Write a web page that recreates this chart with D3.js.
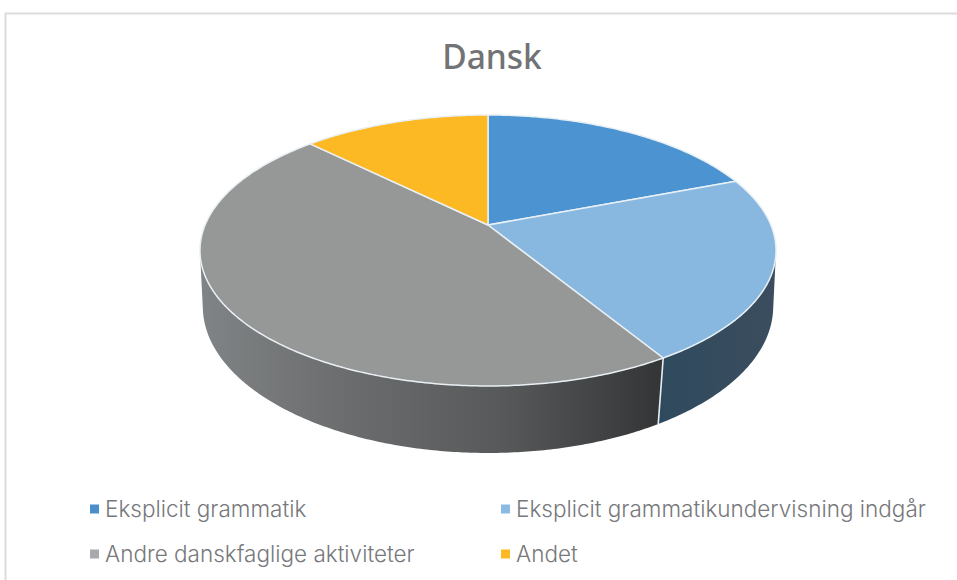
<!DOCTYPE html>
<html><head><meta charset="utf-8">
<script src="https://cdn.jsdelivr.net/npm/d3@7/dist/d3.min.js"></script>
<style>html,body{margin:0;padding:0;background:#fff}svg{display:block}</style>
</head><body><svg id="c" width="957" height="580"></svg>
<script>
const title = "Dansk";
const categories = ["Eksplicit grammatik","Eksplicit grammatikundervisning indgår","Andre danskfaglige aktiviteter","Andet"];
const values = [19.2,22.1,46.1,12.6];
const colors = ["#4b94d1","#88b8e0","#969897","#fdb923"];
const legendSwatch = ["#4a8fcb","#8bbbe3","#a7a9ac","#fdb923"];

const svg = d3.select("#c");
const cx=488;
// perspective projection of the disc (top and bottom faces)
const topFace={a:282.9,b:130.7,k:0.188,y0:225};
const botFace={a:281.3,b:142.6,k:0.165,y0:282.2};
const project=(f,t)=>{const x=Math.sin(t),y=Math.cos(t),w=1+f.k*y;return [cx+f.a*x/w,f.y0-f.b*y/w];};
const arcPts=(f,t0,t1)=>{const n=Math.max(2,Math.ceil(Math.abs(t1-t0)/0.01));return d3.range(n+1).map(i=>project(f,t0+(t1-t0)*i/n));};
const line=d3.line();

const pie=d3.pie().sort(null)(values);
const defs=svg.append("defs");
const g1=defs.append("linearGradient").attr("id","wallGray").attr("gradientUnits","userSpaceOnUse").attr("x1",205).attr("x2",660).attr("y1",0).attr("y2",0);
[[0,"#808385"],[0.3,"#6b6d6e"],[0.65,"#57595a"],[1,"#343536"]].forEach(s=>g1.append("stop").attr("offset",s[0]).attr("stop-color",s[1]));
const g2=defs.append("linearGradient").attr("id","wallBlue").attr("gradientUnits","userSpaceOnUse").attr("x1",660).attr("x2",775).attr("y1",0).attr("y2",0);
[[0,"#2f4a5e"],[1,"#3b4d5e"]].forEach(s=>g2.append("stop").attr("offset",s[0]).attr("stop-color",s[1]));

// frame
svg.append("path").attr("d","M5.5 580V13.5H957").attr("fill","none").attr("stroke","#dcdcdc").attr("stroke-width",2);

// walls (visible front part)
const visA=Math.acos(-topFace.k), visB=2*Math.PI-visA;
const wallFill=["none","url(#wallBlue)","url(#wallGray)","none"];
pie.forEach((d,i)=>{
  const t0=Math.max(d.startAngle,visA),t1=Math.min(d.endAngle,visB);
  if(t1<=t0) return;
  const pts=arcPts(topFace,t0,t1).concat(arcPts(botFace,t1,t0));
  svg.append("path").attr("d",line(pts)+"Z").attr("fill",wallFill[i]).attr("stroke","none");
});
// seam between walls
pie.forEach(d=>{
  if(d.startAngle>visA&&d.startAngle<visB)
    svg.append("path").attr("d",line([project(topFace,d.startAngle),project(botFace,d.startAngle)])).attr("stroke","#e8eef2").attr("stroke-width",1.6);
});
// top slices
pie.forEach((d,i)=>{
  const pts=[[cx,topFace.y0]].concat(arcPts(topFace,d.startAngle,d.endAngle));
  svg.append("path").attr("d",line(pts)+"Z").attr("fill",colors[i]).attr("stroke","#e9f0f5").attr("stroke-width",1.5).attr("stroke-linejoin","round");
});

svg.append("text").attr("x",492).attr("y",69).attr("text-anchor","middle").attr("font-family","Noto Sans").attr("font-weight",500).attr("font-size",33.5).attr("fill","#727376").text(title);

const lx=[90,501],ly=[509,554];
categories.forEach((c,i)=>{
  const x=lx[i%2],y=ly[Math.floor(i/2)];
  svg.append("rect").attr("x",x).attr("y",y-4.5).attr("width",9).attr("height",9).attr("fill",legendSwatch[i]);
  svg.append("text").attr("x",x+15).attr("y",y+8).attr("font-family","Inter").attr("font-weight",300).attr("font-size",22.5).attr("fill","#77787b").text(c);
});
</script></body></html>
